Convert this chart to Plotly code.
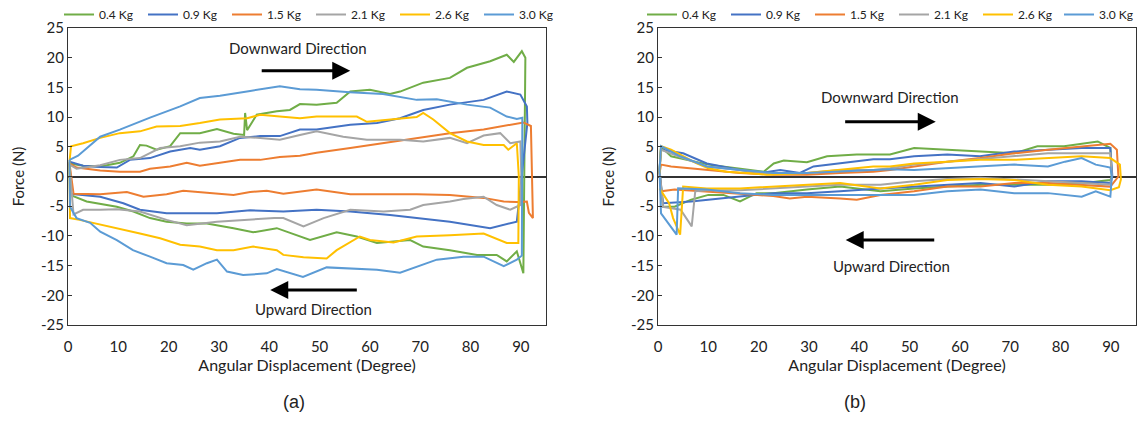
import plotly.graph_objects as go

# ---------------- data ----------------
labels = ["0.4 Kg", "0.9 Kg", "1.5 Kg", "2.1 Kg", "2.6 Kg", "3.0 Kg"]
colors = ["#70AD47", "#4472C4", "#ED7D31", "#A5A5A5", "#FFC000", "#5B9BD5"]

# Panel (a) : loop = downward (positive) then upward (negative) back to 0
a_04_deg = [0.3, 3, 6.4, 10.3, 13, 14.3, 15.6, 17.6, 20.3, 22.3, 26.2, 29.6, 32.9, 35.0, 35.2, 35.6, 37.5, 41.5, 44.1, 46.1, 49.4, 53.4, 56.1, 60, 64, 66, 70.6, 75.9, 79.3, 83.9, 87.2, 88.6, 90.2, 90.9,
            90.5, 89.2, 87.2, 85.2, 81.3, 75.9, 70.6, 68, 61.4, 57.4, 53.4, 48.1, 41.5, 36.8, 32.9, 27.6, 23.6, 19.6, 16.3, 13, 9.7, 3.7, 0.4, 0.3]
a_04_force = [2.2, 1.8, 1.7, 2.3, 3.4, 5.3, 5.2, 4.5, 5.1, 7.3, 7.3, 8.0, 7.2, 7.0, 10.7, 7.8, 10.4, 11.0, 11.2, 12.2, 12.1, 12.4, 14.3, 14.6, 13.9, 14.3, 15.8, 16.6, 18.3, 19.4, 20.5, 19.3, 21.1, 20.0,
              -16.3, -12.6, -14.3, -13.2, -13.2, -12.4, -11.8, -10.7, -11.2, -10.1, -9.4, -10.7, -8.7, -9.4, -8.7, -7.9, -7.9, -7.6, -7.0, -5.9, -5.1, -4.2, -3.1, 2.2]

a_09_deg = [0.3, 3, 6.4, 9.7, 12.3, 16.3, 20.3, 24.3, 26.2, 30.2, 34.2, 38.2, 42.1, 46.1, 49.4, 56.1, 61.4, 66, 70.6, 75.9, 82.6, 87.2, 89.9, 91.2, 91.3,
            89.2, 83.9, 75.9, 69.3, 64, 56.1, 49.4, 42.8, 36.2, 29.6, 23.6, 19.6, 14.3, 11, 6.4, 0.5, 0.3]
a_09_force = [2.5, 1.8, 1.6, 1.5, 2.8, 3.1, 4.2, 4.8, 4.5, 5.1, 6.5, 6.8, 6.8, 7.9, 7.9, 8.7, 9.0, 9.8, 11.2, 12.1, 12.9, 14.3, 13.8, 11.8, 9.0,
              -7.6, -8.7, -7.6, -7.0, -6.5, -5.9, -5.6, -5.9, -5.7, -6.2, -6.2, -6.2, -5.6, -4.5, -3.4, -2.9, 2.5]

a_15_deg = [0.3, 1.7, 6.4, 10.3, 14.3, 16.3, 20.3, 23.6, 26.2, 30.2, 34.2, 38.2, 42.1, 46.1, 49.4, 56.1, 62.7, 69.3, 75.9, 82.6, 87.9, 90.5, 92.0, 92.2, 92.4,
            91.6, 91.2, 89.2, 86.6, 82.6, 75.9, 69.3, 62.7, 56.1, 49.4, 46.1, 42.8, 39.5, 36.2, 32.9, 26.2, 22.9, 19.6, 15, 11.7, 6.4, 1.1, 0.3]
a_15_force = [2.2, 1.5, 1.0, 0.8, 0.8, 1.3, 1.7, 2.3, 1.8, 2.3, 2.8, 2.8, 3.3, 3.5, 4.0, 4.8, 5.6, 6.5, 7.3, 7.9, 8.7, 9.1, 8.5, 2.0, -7.0,
              -6.1, -4.2, -4.3, -4.2, -3.6, -3.1, -3.0, -3.0, -3.0, -2.2, -2.5, -2.9, -2.4, -2.6, -3.1, -2.6, -2.4, -3.0, -3.4, -2.6, -3.0, -2.9, 2.2]

a_21_deg = [0.3, 1.7, 6.4, 10.3, 14.3, 18.3, 22.3, 26.2, 30.2, 34.2, 38.2, 42.1, 46.1, 49.4, 54.7, 59.4, 66, 70.6, 75.9, 79.3, 82.6, 85.9, 87.9, 89.9, 90.1,
            89.9, 87.9, 85.2, 82.6, 78.6, 75.9, 70.6, 68, 62.7, 56.1, 50.8, 46.8, 42.8, 41, 36.2, 34.2, 29.6, 23.6, 19.6, 14.3, 9.7, 6.4, 3, 1.1, 0.3]
a_21_force = [2.0, 1.3, 1.9, 2.8, 3.1, 4.8, 5.1, 5.7, 5.9, 6.7, 6.5, 6.2, 7.0, 7.6, 6.7, 6.2, 6.2, 5.9, 6.5, 5.6, 6.9, 7.3, 5.6, 5.9, 0.0,
              -4.8, -5.6, -4.8, -3.4, -3.8, -4.2, -4.8, -5.6, -5.9, -5.6, -7.0, -8.4, -7.0, -7.0, -7.3, -7.3, -7.6, -8.2, -7.3, -5.9, -5.5, -5.6, -5.6, -6.4, 2.0]

a_26_deg = [0.3, 0.6, 3, 6.4, 10.3, 14.3, 17.6, 22.3, 26.2, 30.2, 35.6, 38.2, 42.1, 46.1, 49.4, 57.4, 59.4, 64, 69.3, 70.6, 72.6, 75.9, 79.3, 82.6, 86.6, 87.5, 89.2, 89.6,
            89.5, 87.2, 82.6, 75.9, 69.3, 64.7, 60, 58, 56.1, 53.4, 51.4, 46.8, 42.8, 41.5, 36.8, 32.9, 29.6, 26.2, 22.3, 18.3, 14.3, 9.7, 5.7, 2.3, 0.4, 0.3]
a_26_force = [2.5, 5.1, 5.6, 6.5, 7.3, 7.6, 8.4, 8.5, 9.0, 9.6, 9.8, 10.4, 10.1, 9.8, 10.1, 10.1, 9.2, 9.6, 10.0, 10.7, 9.6, 7.3, 5.9, 5.3, 5.3, 4.5, 5.6, 0.0,
              -11.2, -11.2, -9.6, -9.9, -10.1, -11.1, -10.7, -10.1, -11.0, -12.4, -13.8, -13.6, -13.2, -12.4, -11.8, -12.4, -12.4, -11.8, -11.5, -10.4, -9.6, -8.7, -7.9, -7.3, -7.0, 2.5]

a_30_deg = [0.3, 2, 6.4, 10.3, 16.3, 22.3, 26.2, 30.2, 36.2, 42.1, 46.1, 49.4, 56, 62.6, 69.3, 73.3, 79.3, 83.9, 87.2, 89.2, 90.3, 90.3,
            90.2, 89.2, 86.6, 82.6, 78.6, 73.3, 69.3, 66, 61.4, 56.1, 51.4, 46.7, 41.5, 39.5, 34.8, 31.6, 29.6, 27.6, 24.9, 22.9, 19.6, 16.3, 12.9, 9.7, 6.4, 4.4, 1.7, 0.4, 0.3]
a_30_force = [2.8, 3.5, 6.7, 7.9, 9.9, 11.8, 13.2, 13.6, 14.4, 15.2, 14.7, 14.6, 14.2, 13.9, 12.9, 13.0, 12.1, 11.6, 10.1, 9.7, 9.9, -12.9,
              -13.3, -14.0, -15.1, -13.5, -13.5, -14.0, -15.2, -16.2, -15.7, -15.5, -15.3, -16.9, -15.6, -16.3, -16.6, -16.0, -14.0, -14.6, -15.7, -14.9, -14.6, -13.5, -12.4, -10.7, -9.3, -7.8, -7.0, -5.1, 2.8]

# Panel (b)
b_04_deg = [0.3, 0.6, 2.6, 6.6, 10, 15.6, 21, 23, 25, 29.6, 33.6, 39.5, 46.1, 50.9, 57.5, 64, 70.8, 75.4, 80.7, 87.4, 89.9, 90.2,
            89.9, 84.7, 77.9, 71.1, 64.4, 57.7, 50.9, 44.2, 36.2, 29.6, 22.9, 19.6, 16.3, 13, 10, 6.6, 3.3, 1.0, 0.3]
b_04_force = [1.0, 5.0, 3.4, 2.6, 2.0, 1.4, 0.8, 2.2, 2.7, 2.4, 3.4, 3.7, 3.7, 4.8, 4.5, 4.2, 3.9, 5.1, 5.1, 5.9, 4.8, 0.0,
              -0.6, -1.1, -1.4, -1.4, -1.4, -1.7, -2.0, -2.5, -1.7, -2.2, -2.8, -2.8, -4.2, -3.1, -3.1, -3.9, -5.1, -5.1, 1.0]

b_09_deg = [0.3, 0.6, 5, 9.7, 16.3, 20.3, 24.3, 28.2, 30.9, 36.2, 42.8, 46.1, 50.9, 57.5, 64, 70.8, 77.5, 84.2, 89.9, 90.3,
            89.9, 84.2, 77.5, 70.8, 64.1, 57.5, 50.9, 44.2, 36.2, 29.6, 22.9, 16.3, 9.7, 6.6, 1.0, 0.3]
b_09_force = [1.0, 4.5, 3.9, 2.2, 1.1, 0.6, 1.1, 0.6, 1.7, 2.2, 2.9, 2.9, 3.4, 3.7, 3.4, 4.2, 4.5, 4.8, 4.8, 0.0,
              -1.1, -0.8, -0.8, -1.7, -1.1, -1.4, -1.7, -2.0, -2.5, -2.8, -2.8, -3.4, -3.9, -4.2, -4.5, 1.0]

b_15_deg = [0.3, 0.6, 2.6, 9.7, 16.3, 22.9, 29.6, 36.2, 42.8, 46.1, 50.9, 57.5, 64, 70.8, 77.5, 84.2, 89.9, 91.2, 91.5,
            89.9, 84.2, 77.5, 70.8, 64.1, 57.5, 50.9, 44.2, 39.5, 36.2, 29.6, 26.2, 22.9, 16.3, 9.7, 3.3, 0.6, 0.3]
b_15_force = [0.5, 2.0, 1.7, 1.1, 0.6, 0.3, 0.3, 0.6, 0.8, 1.1, 1.7, 2.5, 3.1, 3.9, 4.5, 5.1, 5.5, 4.5, 0.0,
              -1.7, -1.4, -1.1, -1.1, -1.7, -1.7, -2.5, -3.1, -3.9, -3.7, -3.4, -3.7, -3.3, -2.9, -2.5, -2.2, -2.5, 0.5]

b_21_deg = [0.3, 0.6, 5, 9.7, 16.3, 22.9, 29.6, 36.2, 42.8, 46.1, 50.9, 57.5, 64, 70.8, 77.5, 84.2, 89.9, 90.2,
            89.9, 84.2, 77.5, 70.8, 64.1, 57.5, 50.9, 44.2, 36.2, 29.6, 22.9, 16.3, 9.7, 7.4, 6.7, 4.5, 1.0, 0.3]
b_21_force = [1.0, 4.5, 3.1, 1.7, 1.1, 0.4, 0.6, 1.1, 1.1, 1.4, 2.0, 2.5, 2.9, 3.4, 3.9, 3.9, 3.9, 0.0,
              -1.4, -1.1, -0.8, -0.4, -0.2, -0.4, -0.8, -1.4, -1.4, -1.7, -2.0, -2.3, -2.3, -2.5, -8.4, -5.6, -5.1, 1.0]

b_26_deg = [0.3, 0.6, 2.6, 5, 7.7, 10, 13.6, 17.6, 21.6, 29.6, 36.2, 42.8, 46.1, 50.9, 57.5, 64, 70.8, 77.5, 84.2, 89.9, 91.8, 92.0, 91.6,
            89.9, 84.2, 77.5, 70.8, 64.1, 57.5, 50.9, 44.2, 36.2, 29.6, 22.9, 16.3, 9.7, 5.0, 4.4, 3.0, 2.2, 0.3]
b_26_force = [0.5, 5.1, 4.5, 3.4, 2.2, 1.4, 0.8, 0.6, 0.3, 0.6, 1.1, 1.7, 1.7, 2.2, 2.5, 2.8, 2.8, 3.1, 3.4, 3.1, 2.0, -0.5, -1.8,
              -2.3, -1.7, -1.4, -0.6, -0.4, -0.6, -1.4, -2.0, -1.1, -1.4, -1.7, -2.0, -2.0, -1.7, -9.8, -7.0, -4.5, -2.0, 0.5]

b_30_deg = [0.3, 0.6, 4.4, 9.7, 16.3, 22.9, 29.6, 36.2, 42.8, 46.1, 50.9, 57.5, 64, 70.8, 77.5, 80.9, 84.2, 87.0, 89.9, 90.2,
            89.9, 87.0, 84.2, 77.5, 70.8, 64.1, 57.5, 50.9, 44.2, 36.2, 29.6, 22.9, 16.3, 9.7, 4.0, 3.7, 0.6, 0.3]
b_30_force = [1.0, 5.1, 3.4, 1.7, 1.1, 0.6, 0.6, 0.8, 1.1, 1.2, 1.1, 1.4, 1.7, 2.0, 1.7, 2.5, 3.1, 2.0, 1.5, 0.0,
              -3.4, -2.5, -3.4, -2.8, -2.8, -2.2, -2.5, -3.1, -3.1, -3.1, -3.1, -3.1, -2.8, -2.2, -2.0, -9.8, -6.2, 1.0]

panel_a = [(a_04_deg, a_04_force), (a_09_deg, a_09_force), (a_15_deg, a_15_force),
           (a_21_deg, a_21_force), (a_26_deg, a_26_force), (a_30_deg, a_30_force)]
panel_b = [(b_04_deg, b_04_force), (b_09_deg, b_09_force), (b_15_deg, b_15_force),
           (b_21_deg, b_21_force), (b_26_deg, b_26_force), (b_30_deg, b_30_force)]

y_tick_values = [-25, -20, -15, -10, -5, 0, 5, 10, 15, 20, 25]
y_tick_labels = ["-25", "-20", "-15", "-10", "-5", "0", "5", "10", "15", "20", "25"]
x_tick_values = [0, 10, 20, 30, 40, 50, 60, 70, 80, 90]

FONT = "Lato, 'Open Sans', sans-serif"
W, H = 1139, 434

fig = go.Figure()
for i, (dx, fy) in enumerate(panel_a):
    fig.add_trace(go.Scatter(x=dx, y=fy, mode="lines", name=labels[i],
                             line=dict(color=colors[i], width=2), xaxis="x", yaxis="y",
                             legend="legend"))
for i, (dx, fy) in enumerate(panel_b):
    fig.add_trace(go.Scatter(x=dx, y=fy, mode="lines", name=labels[i],
                             line=dict(color=colors[i], width=2), xaxis="x2", yaxis="y2",
                             legend="legend2" if i < 5 else "legend3"))

xdomA = [68 / W, 546 / W]
xdomB = [658 / W, 1136 / W]
ydom = [1 - 325 / H, 1 - 28 / H]
zero_pos = (ydom[0] + ydom[1]) / 2

common_x = dict(range=[0, 95], tickvals=x_tick_values, ticks="", showgrid=False,
                showline=True, mirror=True, linecolor="#333333", linewidth=1.2,
                tickfont=dict(family=FONT, size=15, color="#222"), zeroline=False,
                ticklabelstandoff=8,
                title=dict(text="Angular Displacement (Degree)", font=dict(family=FONT, size=16, color="#222"),
                           standoff=2),
                automargin=False, fixedrange=True)
common_y = dict(range=[-25, 25], tickvals=y_tick_values, ticktext=y_tick_labels, ticks="inside",
                ticklen=4, tickcolor="#333", showgrid=False, showline=True, mirror=True,
                linecolor="#333333", linewidth=1.2, zeroline=True, zerolinecolor="#333333",
                zerolinewidth=1.5, tickfont=dict(family=FONT, size=15, color="#222"),
                title=dict(text="Force (N)", font=dict(family=FONT, size=15, color="#222"), standoff=12),
                automargin=False, fixedrange=True)

tick_axis = dict(range=[0, 95], tickvals=x_tick_values[1:], showticklabels=False, showgrid=False,
                 showline=False, zeroline=False, tickcolor="#333", tickwidth=1.5, ticklen=5,
                 anchor="free", position=zero_pos, fixedrange=True)

leg_common = dict(orientation="h", y=1.0, yanchor="top", tracegroupgap=0,
                  font=dict(family=FONT, size=12, color="#222"), bgcolor="rgba(0,0,0,0)")

fig.update_layout(
    width=W, height=H, margin=dict(l=0, r=0, t=0, b=0),
    paper_bgcolor="white", plot_bgcolor="white", showlegend=True,
    xaxis=dict(domain=xdomA, anchor="y", **common_x),
    yaxis=dict(domain=ydom, anchor="x", **common_y),
    xaxis2=dict(domain=xdomB, anchor="y2", **common_x),
    yaxis2=dict(domain=ydom, anchor="x2", **common_y),
    xaxis3=dict(domain=xdomA, overlaying="x", ticks="outside", **tick_axis),
    xaxis4=dict(domain=xdomA, overlaying="x", ticks="inside", **tick_axis),
    xaxis5=dict(domain=xdomB, overlaying="x2", ticks="outside", **tick_axis),
    xaxis6=dict(domain=xdomB, overlaying="x2", ticks="inside", **tick_axis),
    legend=dict(x=59 / W, xanchor="left", entrywidth=39, entrywidthmode="pixels", **leg_common),
    legend2=dict(x=642 / W, xanchor="left", entrywidth=39, entrywidthmode="pixels", **leg_common),
    legend3=dict(x=1.0, xanchor="right", **leg_common),
)

ann = []
def arrow(xref, yref, x0, x1, y):
    ann.append(dict(x=x1, y=y, ax=x0, ay=y, xref=xref, yref=yref, axref=xref, ayref=yref,
                    showarrow=True, arrowhead=2, arrowsize=1.2, arrowwidth=3, arrowcolor="black", text=""))
def label(xref, yref, x, y, text):
    ann.append(dict(x=x, y=y, xref=xref, yref=yref, text=text, showarrow=False,
                    font=dict(family=FONT, size=15, color="#222")))

label("x", "y", 45.7, 21.7, "Downward Direction")
arrow("x", "y", 38.2, 56.1, 17.8)
label("x", "y", 48.7, -22.3, "Upward Direction")
arrow("x", "y", 57.7, 40.2, -19.1)
label("x2", "y2", 46.2, 13.4, "Downward Direction")
arrow("x2", "y2", 36.9, 55.2, 9.2)
label("x2", "y2", 46.4, -15.1, "Upward Direction")
arrow("x2", "y2", 55.2, 37.3, -10.7)

ann.append(dict(x=281 / W, y=1 - 414 / H, xref="paper", yref="paper", text="(a)", showarrow=False,
                font=dict(family="Liberation Sans, Arial, sans-serif", size=18, color="#222")))
ann.append(dict(x=868 / W, y=1 - 414 / H, xref="paper", yref="paper", text="(b)", showarrow=False,
                font=dict(family="Liberation Sans, Arial, sans-serif", size=18, color="#222")))
fig.update_layout(annotations=ann)

fig.write_html("out.html", config={"displayModeBar": False},
               post_script="document.body.style.margin='0';")
